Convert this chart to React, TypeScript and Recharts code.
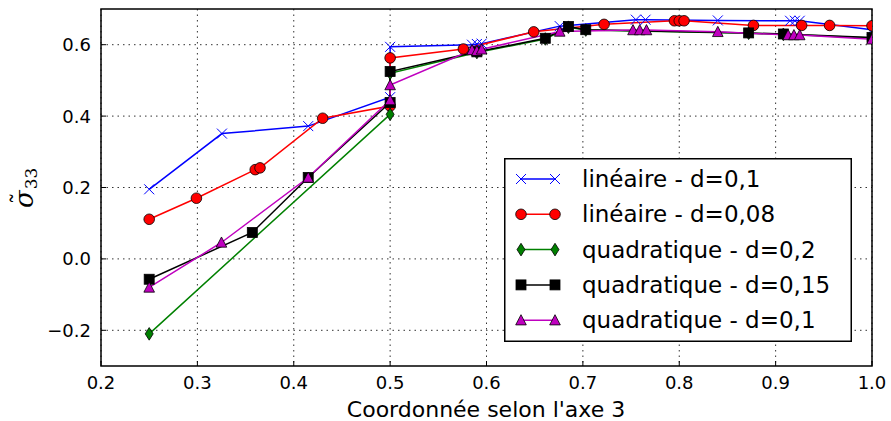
import { LineChart, Line, XAxis, YAxis, CartesianGrid, Legend, ReferenceArea } from "recharts";

// axis ticks
const xTicks = [0.2, 0.3, 0.4, 0.5, 0.6, 0.7, 0.8, 0.9, 1.0];
const yTicks = [-0.2, 0.0, 0.2, 0.4, 0.6];

// linéaire - d=0,1
const linA_x = [0.25, 0.3255, 0.415, 0.5, 0.5, 0.585, 0.59, 0.595, 0.676, 0.755, 0.765, 0.84, 0.915, 0.92, 0.925, 1.0];
const linA_y = [0.195, 0.351, 0.372, 0.453, 0.594, 0.6, 0.602, 0.603, 0.652, 0.67, 0.67, 0.668, 0.667, 0.667, 0.667, 0.642];

// linéaire - d=0,08
const linB_x = [0.25, 0.299, 0.36, 0.365, 0.43, 0.5, 0.5, 0.576, 0.649, 0.722, 0.795, 0.8, 0.805, 0.877, 0.927, 0.956, 1.0];
const linB_y = [0.111, 0.17, 0.25, 0.255, 0.394, 0.428, 0.563, 0.588, 0.636, 0.657, 0.667, 0.667, 0.667, 0.654, 0.654, 0.654, 0.653];

// quadratique - d=0,2
const quadA_x = [0.25, 0.5, 0.5, 0.59, 0.661, 0.685, 0.703, 0.872, 0.908, 1.0];
const quadA_y = [-0.21, 0.405, 0.52, 0.578, 0.616, 0.649, 0.641, 0.632, 0.629, 0.619];

// quadratique - d=0,15
const quadB_x = [0.25, 0.357, 0.415, 0.5, 0.5, 0.59, 0.661, 0.685, 0.703, 0.872, 0.908, 1.0];
const quadB_y = [-0.057, 0.074, 0.228, 0.438, 0.525, 0.58, 0.618, 0.651, 0.642, 0.633, 0.63, 0.62];

// quadratique - d=0,1
const quadC_x = [0.25, 0.325, 0.415, 0.5, 0.5, 0.585, 0.59, 0.595, 0.676, 0.752, 0.759, 0.766, 0.84, 0.913, 0.919, 0.925, 1.0];
const quadC_y = [-0.08, 0.046, 0.228, 0.445, 0.487, 0.585, 0.583, 0.587, 0.637, 0.641, 0.641, 0.641, 0.636, 0.627, 0.627, 0.627, 0.615];

type Shape = "x" | "circle" | "diamond" | "square" | "triangle";

const series = [
  { name: "linéaire - d=0,1", xs: linA_x, ys: linA_y, color: "#0000ff", shape: "x" as Shape },
  { name: "linéaire - d=0,08", xs: linB_x, ys: linB_y, color: "#ff0000", shape: "circle" as Shape },
  { name: "quadratique - d=0,2", xs: quadA_x, ys: quadA_y, color: "#008000", shape: "diamond" as Shape },
  { name: "quadratique - d=0,15", xs: quadB_x, ys: quadB_y, color: "#000000", shape: "square" as Shape },
  { name: "quadratique - d=0,1", xs: quadC_x, ys: quadC_y, color: "#bf00bf", shape: "triangle" as Shape },
];

const FONT = "'DejaVu Sans', sans-serif";

function Marker({ shape, cx, cy, color }: { shape: Shape; cx: number; cy: number; color: string }) {
  const edge = "#000";
  if (shape === "x") {
    const s = 5;
    return (
      <g stroke={color} strokeWidth={1}>
        <line x1={cx - s} y1={cy - s} x2={cx + s} y2={cy + s} />
        <line x1={cx - s} y1={cy + s} x2={cx + s} y2={cy - s} />
      </g>
    );
  }
  if (shape === "circle") {
    return <circle cx={cx} cy={cy} r={5.3} fill={color} stroke={edge} strokeWidth={0.8} />;
  }
  if (shape === "diamond") {
    return (
      <polygon
        points={`${cx},${cy - 6.3} ${cx + 4},${cy} ${cx},${cy + 6.3} ${cx - 4},${cy}`}
        fill={color}
        stroke={edge}
        strokeWidth={0.8}
      />
    );
  }
  if (shape === "square") {
    return <rect x={cx - 5} y={cy - 5} width={10} height={10} fill={color} stroke={edge} strokeWidth={0.8} />;
  }
  return (
    <polygon
      points={`${cx},${cy - 5.5} ${cx + 5.3},${cy + 4.7} ${cx - 5.3},${cy + 4.7}`}
      fill={color}
      stroke={edge}
      strokeWidth={0.8}
    />
  );
}

const makeDot = (shape: Shape, color: string) => (props: any) => {
  const { cx, cy, index } = props;
  if (cx == null || cy == null) return <g key={index} />;
  return <Marker key={index} shape={shape} cx={cx} cy={cy} color={color} />;
};

const fmt = (v: number) => (v < 0 ? "\u2212" + Math.abs(v).toFixed(1) : v.toFixed(1));

const XTick = (props: any) => {
  const { x, y, payload } = props;
  return (
    <g>
      <line x1={x} y1={y - 10} x2={x} y2={y - 15} stroke="#000" strokeWidth={1} />
      <text x={x} y={y} dy={13} textAnchor="middle" fontFamily={FONT} fontSize={18} fill="#000">
        {fmt(payload.value)}
      </text>
    </g>
  );
};

const YTick = (props: any) => {
  const { x, y, payload } = props;
  return (
    <g>
      <line x1={x + 10} y1={y} x2={x + 15} y2={y} stroke="#000" strokeWidth={1} />
      <text x={x} y={y} dy={6.5} textAnchor="end" fontFamily={FONT} fontSize={18} fill="#000">
        {fmt(payload.value)}
      </text>
    </g>
  );
};

const YLabel = () => (
  <text transform="translate(33,208) rotate(-90)" fontFamily="'DejaVu Serif', serif" fill="#000">
    <tspan fontSize={26} fontStyle="italic">σ</tspan>
    <tspan fontSize={24} dx={-14} dy={-4}>˜</tspan>
    <tspan fontSize={17} dx={3} dy={8}>33</tspan>
  </text>
);

const XLabel = () => (
  <text x={486} y={417} textAnchor="middle" fontFamily={FONT} fontSize={22} fill="#000">
    Coordonnée selon l'axe 3
  </text>
);

function LegendBox() {
  const rowH = 35.3;
  return (
    <svg width={348} height={184} style={{ display: "block" }}>
      <rect x={0.75} y={0.75} width={346.5} height={182.5} fill="#fff" stroke="#000" strokeWidth={1.5} />
      {series.map((s, i) => {
        const cy = 21 + i * rowH;
        return (
          <g key={s.name}>
            <line x1={17} y1={cy} x2={51} y2={cy} stroke={s.color} strokeWidth={1.5} />
            <Marker shape={s.shape} cx={17} cy={cy} color={s.color} />
            <Marker shape={s.shape} cx={51} cy={cy} color={s.color} />
            <text x={78} y={cy} dy={8} fontFamily={FONT} fontSize={23} fill="#000">
              {s.name}
            </text>
          </g>
        );
      })}
    </svg>
  );
}

export default function App() {
  return (
    <div style={{ position: "absolute", left: 0, top: 0, background: "#fff" }}>
      <LineChart width={891} height={421} margin={{ top: 9, right: 19, bottom: 0, left: 0 }}>
        <CartesianGrid
          stroke="#333"
          strokeDasharray="1.5 4"
          strokeWidth={1}
          horizontalValues={yTicks}
          verticalValues={xTicks}
        />
        <XAxis
          type="number"
          dataKey="x"
          domain={[0.2, 1.0]}
          ticks={xTicks}
          allowDataOverflow
          height={55}
          tickSize={6}
          tickMargin={4}
          tickLine={false}
          axisLine={false}
          tick={<XTick />}
          label={<XLabel />}
        />
        <YAxis
          type="number"
          domain={[-0.3, 0.7]}
          ticks={yTicks}
          allowDataOverflow
          width={101}
          tickSize={6}
          tickMargin={4}
          tickLine={false}
          axisLine={false}
          tick={<YTick />}
          label={<YLabel />}
        />
        {series.map((s) => (
          <Line
            key={s.name}
            name={s.name}
            data={s.xs.map((x, i) => ({ x, y: s.ys[i] }))}
            dataKey="y"
            type="linear"
            stroke={s.color}
            strokeWidth={1.5}
            dot={makeDot(s.shape, s.color)}
            activeDot={false}
            isAnimationActive={false}
          />
        ))}
        <ReferenceArea
          x1={0.2}
          x2={1.0}
          y1={-0.3}
          y2={0.7}
          fill="none"
          fillOpacity={0}
          stroke="#000"
          strokeWidth={1.5}
          ifOverflow="visible"
        />
        <Legend
          layout="horizontal"
          align="center"
          verticalAlign="middle"
          content={() => <LegendBox />}
          wrapperStyle={{ position: "absolute", left: 504, top: 158, width: 348, height: 184 }}
        />
      </LineChart>
    </div>
  );
}
